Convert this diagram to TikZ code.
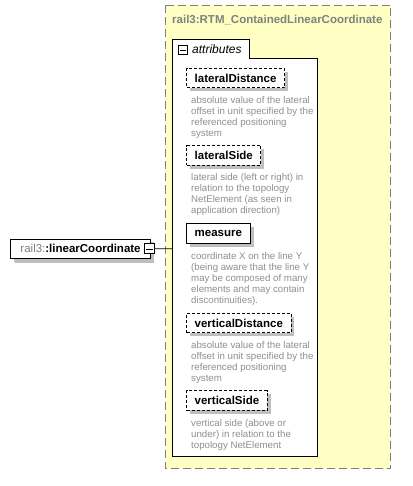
\documentclass[tikz,border=0pt]{standalone}
\usepackage{fontspec}
\setmainfont{Liberation Sans}
\definecolor{grpfill}{HTML}{FFFFC4}
\definecolor{grpline}{HTML}{808080}
\definecolor{doctext}{HTML}{8F8F8F}
\tikzset{
  shadowed/.style={preaction={fill=black!25,transform canvas={shift={(#1,-#1)}}}},
  attrbox/.style={draw, fill=white, line width=0.8pt, anchor=north west, minimum height=19.6pt,
    inner xsep=8pt, inner ysep=0pt, font=\fontsize{11.5}{13}\selectfont\bfseries, shadowed=3.5pt},
  optbox/.style={attrbox, dash pattern=on 3pt off 2pt},
  doc/.style={anchor=north west, inner sep=0pt, align=left, text=doctext, font=\fontsize{9.7}{11}\selectfont},
}
\begin{document}
\begin{tikzpicture}[x=1pt,y=-1pt]
    \useasboundingbox (0,0) rectangle (412,486);
    \draw[grpline,fill=grpfill,line width=0.8pt,dash pattern=on 8pt off 4pt] (165.5,5.5) rectangle (390.5,468.5);
    \node[anchor=base west,inner sep=0pt,text=grpline,font=\fontsize{11.5}{13}\selectfont\bfseries] (grptitle) at (172,24) {rail3:RTM\_ContainedLinearCoordinate};
    \draw[fill=white,line width=0.8pt] (172,456)--(172,39.3)--(249,39.3)--(249,58.3)--(317.3,58.3)--(317.3,456)--cycle;
    \node[draw,minimum size=9pt,inner sep=0pt] (attrminus) at (183,50) {};
    \draw ([xshift=2pt]attrminus.west)--([xshift=-2pt]attrminus.east);
    \node[anchor=base west,inner sep=0pt,font=\fontsize{12}{14}\selectfont\itshape] (attrtab) at (192,53.5) {attributes};
    \node[optbox] (latdist) at (186.3,67.7) {lateralDistance};
    \node[doc] (latdistdoc) at (191,96) {absolute value of the lateral\\offset in unit specified by the\\referenced positioning\\system};
    \node[optbox] (latside) at (186.3,145.3) {lateralSide};
    \node[doc] (latsidedoc) at (191,173.5) {lateral side (left or right) in\\relation to the topology\\NetElement (as seen in\\application direction)};
    \node[attrbox] (measure) at (186.3,223.3) {measure};
    \node[doc] (measuredoc) at (191,252.3) {coordinate X on the line Y\\(being aware that the line Y\\may be composed of many\\elements and may contain\\discontinuities).};
    \node[optbox] (vertdist) at (186.3,312.7) {verticalDistance};
    \node[doc] (vertdistdoc) at (191,341) {absolute value of the lateral\\offset in unit specified by the\\referenced positioning\\system};
    \node[optbox] (vertside) at (186.3,390.3) {verticalSide};
    \node[doc] (vertsidedoc) at (191,419) {vertical side (above or\\under) in relation to the\\topology NetElement};
    \node[attrbox,anchor=west,minimum width=139.7pt,inner xsep=0pt,font=\fontsize{11.5}{13}\selectfont,shadowed=4pt] (lincoord) at (10.3,248.7)
      {\textcolor{grpline}{rail3:}\textbf{:linearCoordinate}};
    \node[draw,fill=white,line width=0.8pt,minimum size=10pt,inner sep=0pt] (lcminus) at (149.3,248.8) {};
    \draw ([xshift=2pt]lcminus.west)--([xshift=-2pt]lcminus.east);
    \coordinate (attrin) at (172,248.7);
    \draw[line width=0.8pt] (lcminus.east)--(attrin);
\end{tikzpicture}
\end{document}
